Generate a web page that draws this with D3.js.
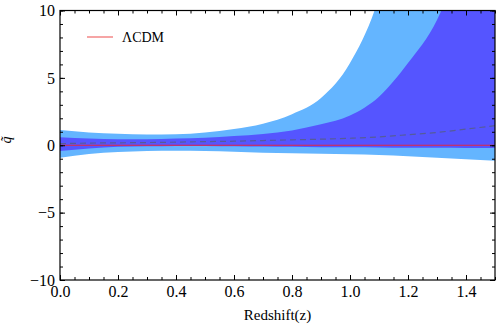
<!DOCTYPE html>
<html>
<head>
<meta charset="utf-8">
<script src="https://cdn.jsdelivr.net/npm/d3@7"></script>
<style>
  body { margin: 0; background: #fff; }
</style>
</head>
<body>
<div class="canvas"></div>
<script>
// redshift samples
const zValues = [0, 0.1, 0.2, 0.3, 0.4, 0.5, 0.6, 0.7, 0.8, 0.9, 1.0, 1.1, 1.2, 1.3, 1.4, 1.5];
// 2 sigma band (light)
const outerUpper = [1.13, 0.95, 0.85, 0.8, 0.82, 0.95, 1.2, 1.6, 2.3, 3.5, 6.1, 11, 20, 35, 60, 100];
const outerLower = [-0.92, -0.65, -0.5, -0.42, -0.4, -0.42, -0.48, -0.55, -0.6, -0.63, -0.67, -0.73, -0.82, -0.92, -1.03, -1.15];
// 1 sigma band (dark)
const innerUpper = [0.6, 0.5, 0.45, 0.45, 0.5, 0.56, 0.68, 0.84, 1.1, 1.55, 2.2, 3.6, 6.1, 9.3, 15, 24];
const innerLower = [-0.43, -0.25, -0.12, -0.08, -0.05, -0.05, -0.08, -0.1, -0.12, -0.14, -0.15, -0.16, -0.18, -0.19, -0.2, -0.2];
// best fit (dashed)
const bestFit = [0.12, 0.16, 0.18, 0.2, 0.23, 0.27, 0.3, 0.35, 0.4, 0.45, 0.52, 0.62, 0.78, 0.95, 1.2, 1.45];
// LCDM reference
const lcdm = zValues.map(() => 0);

const xTicks = [0, 0.2, 0.4, 0.6, 0.8, 1.0, 1.2, 1.4];
const yTicks = [-10, -5, 0, 5, 10];

const serif = 'Liberation Serif';

const dims = { width: 498, height: 332 };
const margin = { left: 60, right: 3, top: 10.5, bottom: 52 };
const inner = {
  width: dims.width - margin.left - margin.right,
  height: dims.height - margin.top - margin.bottom
};

const svg = d3.select('.canvas')
  .append('svg')
  .attr('width', dims.width)
  .attr('height', dims.height);

const x = d3.scaleLinear().domain([0, 1.5]).range([0, inner.width]);
const y = d3.scaleLinear().domain([-10, 10]).range([inner.height, 0]);

const graph = svg.append('g')
  .attr('transform', `translate(${margin.left}, ${margin.top})`);

svg.append('defs').append('clipPath')
  .attr('id', 'plot-clip')
  .append('rect')
    .attr('width', inner.width)
    .attr('height', inner.height);

const plot = graph.append('g').attr('clip-path', 'url(#plot-clip)');

const band = (lo, hi) => d3.area()
  .curve(d3.curveMonotoneX)
  .x((d, i) => x(zValues[i]))
  .y0((d, i) => y(lo[i]))
  .y1((d, i) => y(hi[i]));

const line = d3.line()
  .curve(d3.curveMonotoneX)
  .x((d, i) => x(zValues[i]))
  .y(d => y(d));

plot.append('path')
  .attr('d', band(outerLower, outerUpper)(zValues))
  .attr('fill', '#64b5ff');

plot.append('path')
  .attr('d', band(innerLower, innerUpper)(zValues))
  .attr('fill', '#5555ff');

plot.append('path')
  .attr('d', line(bestFit))
  .attr('fill', 'none')
  .attr('stroke', '#555c99')
  .attr('stroke-width', 1.2)
  .attr('stroke-dasharray', '6,4');

plot.append('path')
  .attr('d', line(lcdm))
  .attr('fill', 'none')
  .attr('stroke', '#e02a40')
  .attr('stroke-width', 1.2);

// axes: ticks point inward on all four sides
const minorX = d3.range(0, 1.5001, 0.05);
const minorY = d3.range(-10, 10.001, 1);

graph.append('g')
  .attr('transform', `translate(0, ${inner.height})`)
  .call(d3.axisBottom(x).tickValues(minorX).tickSize(-3).tickFormat(''));
graph.append('g')
  .attr('class', 'xaxis')
  .attr('transform', `translate(0, ${inner.height})`)
  .call(d3.axisBottom(x).tickValues(xTicks).tickSize(-5).tickPadding(6).tickFormat(d3.format('.1f')));
graph.append('g')
  .call(d3.axisTop(x).tickValues(minorX).tickSize(-3).tickFormat(''));
graph.append('g')
  .call(d3.axisTop(x).tickValues(xTicks).tickSize(-5).tickFormat(''));

graph.append('g')
  .call(d3.axisLeft(y).tickValues(minorY).tickSize(-3).tickFormat(''));
graph.append('g')
  .attr('class', 'yaxis')
  .call(d3.axisLeft(y).tickValues(yTicks).tickSize(-5).tickPadding(5)
    .tickFormat(d => d < 0 ? '\u2212' + Math.abs(d) : d));
graph.append('g')
  .attr('transform', `translate(${inner.width}, 0)`)
  .call(d3.axisRight(y).tickValues(minorY).tickSize(-3).tickFormat(''));
graph.append('g')
  .attr('transform', `translate(${inner.width}, 0)`)
  .call(d3.axisRight(y).tickValues(yTicks).tickSize(-5).tickFormat(''));

graph.selectAll('.domain').remove();
graph.selectAll('g').attr('font-family', null);
graph.selectAll('.tick line').attr('stroke', '#000').attr('stroke-width', 1);
graph.selectAll('.tick text')
  .attr('font-family', serif)
  .attr('font-size', 16)
  .attr('fill', '#000');

graph.append('rect')
  .attr('width', inner.width)
  .attr('height', inner.height)
  .attr('fill', 'none')
  .attr('stroke', '#000')
  .attr('stroke-width', 1.2);

// axis labels
svg.append('text')
  .attr('x', margin.left + inner.width / 2)
  .attr('y', 320)
  .attr('text-anchor', 'middle')
  .attr('font-family', serif)
  .attr('font-size', 15)
  .text('Redshift(z)');

svg.append('text')
  .attr('transform', `translate(11, 140) rotate(-90)`)
  .attr('text-anchor', 'middle')
  .attr('font-family', serif)
  .attr('font-size', 14)
  .attr('font-style', 'italic')
  .text('q\u0303');

// legend
const legendGroup = svg.append('g')
  .attr('transform', 'translate(87, 37)');
legendGroup.append('line')
  .attr('x1', 0).attr('x2', 26)
  .attr('stroke', '#f06868')
  .attr('stroke-width', 1.2);
legendGroup.append('text')
  .attr('x', 35)
  .attr('y', 5)
  .attr('font-family', serif)
  .attr('font-size', 14)
  .text('\u039BCDM');
</script>
</body>
</html>
